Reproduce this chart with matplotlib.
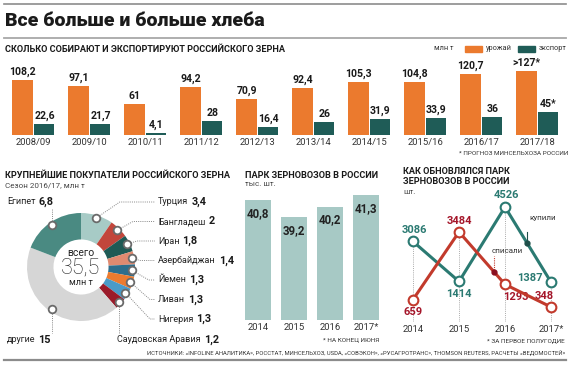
import matplotlib
matplotlib.use('Agg')
import matplotlib.pyplot as plt
from matplotlib.patches import Rectangle
import numpy as np

# ---------------- data ----------------
seasons = ['2008/09', '2009/10', '2010/11', '2011/12', '2012/13',
           '2013/14', '2014/15', '2015/16', '2016/17', '2017/18']
harvest = [108.2, 97.1, 61, 94.2, 70.9, 92.4, 105.3, 104.8, 120.7, 127]
export = [22.6, 21.7, 4.1, 28, 16.4, 26, 31.9, 33.9, 36, 45]
harvest_labels = ['108,2', '97,1', '61', '94,2', '70,9', '92,4', '105,3', '104,8', '120,7', '>127*']
export_labels = ['22,6', '21,7', '4,1', '28', '16,4', '26', '31,9', '33,9', '36', '45*']

buyers = ['Турция', 'Бангладеш', 'Иран', 'Азербайджан', 'Йемен', 'Ливан',
          'Нигерия', 'Саудовская Аравия', 'другие', 'Египет']
buyer_vals = [3.4, 2, 1.8, 1.4, 1.3, 1.3, 1.3, 1.2, 15, 6.8]
buyer_labels = ['3,4', '2', '1,8', '1,4', '1,3', '1,3', '1,3', '1,2', '15', '6,8']
buyer_colors = ['#a7cbc6', '#c2463b', '#1f5a55', '#e08a70', '#2e6e8c', '#ec7b2f',
                '#4a9bc9', '#9b1b2a', '#d6d6d6', '#4a8a82']

fleet_years = ['2014', '2015', '2016', '2017*']
fleet = [40.8, 39.2, 40.2, 41.3]
fleet_labels = ['40,8', '39,2', '40,2', '41,3']

upd_years = ['2014', '2015', '2016', '2017*']
bought = [3086, 1414, 4526, 1387]
scrapped = [659, 3484, 1293, 348]

# ---------------- setup ----------------
W, H = 570, 367
plt.rcParams['font.family'] = ['Liberation Sans Narrow', 'Roboto', 'DejaVu Sans']
DARK = '#1a1a1a'
ORANGE = '#eb7a2e'
TEAL = '#1f5c57'
LTEAL = '#a7c9c5'
LINE_T = '#2b7a72'
LINE_R = '#c23a2c'
LAB_R = '#a5162a'
SEC = 6.6  # section title size

fig = plt.figure(figsize=(W / 100, H / 100), dpi=100)
fig.patch.set_facecolor('white')


def ax_px(x0, y0, x1, y1):
    return fig.add_axes([x0 / W, 1 - y1 / H, (x1 - x0) / W, (y1 - y0) / H])


def txt(x, y, s, **kw):
    kw.setdefault('va', 'center')
    kw.setdefault('color', DARK)
    return fig.text(x / W, 1 - y / H, s, **kw)


def hline(y, x0, x1, **kw):
    fig.add_artist(plt.Line2D([x0 / W, x1 / W], [1 - y / H, 1 - y / H], **kw))


# header
hline(4, 4, 566, color='#8c8c8c', lw=1.2)
txt(5, 21, 'Все больше и больше хлеба', fontsize=14, fontweight='black')
hline(38, 4, 566, color='#a8a8a8', lw=1.3)
txt(5, 49, 'СКОЛЬКО СОБИРАЮТ И ЭКСПОРТИРУЮТ РОССИЙСКОГО ЗЕРНА', fontsize=SEC, fontweight='bold')
txt(453, 49, 'млн т', fontsize=5.3, ha='right', color='#333')
fig.add_artist(Rectangle((465 / W, 1 - 52 / H), 17 / W, 6 / H, color=ORANGE, transform=fig.transFigure))
txt(486, 49, 'урожай', fontsize=5.3, color='#333')
fig.add_artist(Rectangle((518 / W, 1 - 52 / H), 17 / W, 6 / H, color=TEAL, transform=fig.transFigure))
txt(567, 49, 'экспорт', fontsize=5.3, ha='right', color='#333')

# ---------------- chart 1: harvest / export ----------------
ax1 = ax_px(5.5, 64, 565.5, 135)
x = np.arange(len(seasons))
ax1.bar(x - 0.196, harvest, width=0.375, color=ORANGE)
ax1.bar(x + 0.196, export, width=0.357, color=TEAL)
for i in range(len(seasons)):
    ax1.annotate(harvest_labels[i], (x[i] - 0.196, harvest[i]), xytext=(0, 2), textcoords='offset points',
                 ha='center', va='bottom', fontsize=7.6, fontweight='bold', color=DARK)
    ax1.annotate(export_labels[i], (x[i] + 0.196, export[i]), xytext=(0, 2), textcoords='offset points',
                 ha='center', va='bottom', fontsize=7.6, fontweight='bold', color=DARK)
ax1.set_xlim(-0.5, len(seasons) - 0.5)
ax1.set_ylim(0, 140)
ax1.set_xticks(x)
ax1.set_xticklabels(seasons, fontsize=6.8, color='#333')
ax1.tick_params(axis='x', length=0, pad=2)
ax1.set_yticks([])
for s in ax1.spines.values():
    s.set_visible(False)
ax1.patch.set_alpha(0)
txt(568, 153, '* ПРОГНОЗ МИНСЕЛЬХОЗА РОССИИ', fontsize=4.6, ha='right', color='#333')

# ---------------- donut ----------------
txt(5, 175, 'КРУПНЕЙШИЕ ПОКУПАТЕЛИ РОССИЙСКОГО ЗЕРНА', fontsize=SEC, fontweight='bold')
txt(5, 185, 'Сезон 2016/17, млн т', fontsize=5.8, color='#444')

axd = ax_px(0, 190, 230, 350)
CX, CY, R = 81, 367 - 267, 54
wedges, _ = axd.pie(buyer_vals, colors=buyer_colors, startangle=90, counterclock=False,
                    center=(CX, CY), radius=R, wedgeprops=dict(width=R * 0.49, linewidth=0))
axd.set_xlim(0, 230)
axd.set_ylim(367 - 350, 367 - 190)
axd.set_aspect('auto')
axd.axis('off')

axd.text(CX, 367 - 252.5, 'всего', ha='center', va='center', fontsize=7.5, color='#222')
axd.text(CX, 367 - 268, '35,5', ha='center', va='center', fontsize=15.5, fontweight='light', color='#222')
axd.text(CX, 367 - 282.5, 'млн т', ha='center', va='center', fontsize=6.5, color='#222')

fig.canvas.draw()
renderer = fig.canvas.get_renderer()


def name_value(ax, xx, yy, name, val):
    t = ax.text(xx, yy, name, ha='left', va='center', fontsize=6.5, color='#222')
    bb = t.get_window_extent(renderer=renderer)
    inv = ax.transData.inverted()
    x_end = inv.transform((bb.x1, bb.y0))[0]
    ax.text(x_end + 3, yy, val, ha='left', va='center', fontsize=7.8, fontweight='bold', color=DARK)


rm = R * 0.95
right_y = [202 + 19.5 * k for k in range(7)]
for i, w in enumerate(wedges):
    mid = np.deg2rad((w.theta1 + w.theta2) / 2)
    mx, my = CX + rm * np.cos(mid), CY + rm * np.sin(mid)
    if i < 7:
        ly = 367 - right_y[i]
        ex = min(mx + abs(my - ly) * 1.1 + 6, 150)
        axd.plot([mx, ex, 155], [my, ly, ly], color='#888', lw=0.7, ls=(0, (1, 1.2)), zorder=3)
        name_value(axd, 158, ly, buyers[i], buyer_labels[i])
    elif i == 7:
        axd.plot([mx, mx], [my, 367 - 333], color='#888', lw=0.7, ls=(0, (1, 1.2)), zorder=3)
        name_value(axd, 117, 367 - 340, buyers[i], buyer_labels[i])
    elif i == 8:
        axd.plot([mx, mx], [my, 367 - 333], color='#888', lw=0.7, ls=(0, (1, 1.2)), zorder=3)
        name_value(axd, 7, 367 - 340, buyers[i], buyer_labels[i])
    else:
        axd.plot([mx, mx], [my, 367 - 208], color='#888', lw=0.7, ls=(0, (1, 1.2)), zorder=3)
        name_value(axd, 7, 367 - 202, buyers[i], buyer_labels[i])
    axd.plot(mx, my, 'o', ms=5.5, mfc='white', mec='#6a6a6a', mew=1.3, zorder=5)

# ---------------- chart 3: fleet ----------------
txt(245, 175, 'ПАРК ЗЕРНОВОЗОВ В РОССИИ', fontsize=SEC, fontweight='bold')
txt(245, 184, 'тыс. шт.', fontsize=5.8, color='#444')
ax3 = ax_px(240, 190, 384, 320)
xf = np.arange(len(fleet_years))
ax3.bar(xf, fleet, width=0.72, color=LTEAL, bottom=0)
for i in range(len(xf)):
    ax3.annotate(fleet_labels[i], (xf[i], fleet[i]), xytext=(0, -5), textcoords='offset points',
                 ha='center', va='top', fontsize=8.3, fontweight='bold', color='#222')
ax3.set_xlim(-0.5, 3.5)
ax3.set_ylim(29.4, 41.78)
ax3.set_xticks(xf)
ax3.set_xticklabels(fleet_years, fontsize=6.8, color='#333')
ax3.tick_params(axis='x', length=0, pad=2)
ax3.set_yticks([])
for s in ax3.spines.values():
    s.set_visible(False)
ax3.patch.set_alpha(0)
txt(379, 340, '* НА КОНЕЦ ИЮНЯ', fontsize=4.6, ha='right', color='#333')

# ---------------- chart 4: fleet update ----------------
txt(403, 172, 'КАК ОБНОВЛЯЛСЯ ПАРК', fontsize=SEC, fontweight='bold')
txt(403, 182, 'ЗЕРНОВОЗОВ В РОССИИ', fontsize=SEC, fontweight='bold')
txt(403, 192, 'шт.', fontsize=5.8, color='#444')
ax4 = ax_px(400, 195, 565, 322)
xl = np.arange(len(upd_years))
ax4.set_xlim(-0.283, 3.304)
ax4.set_ylim(-279, 5028)
tops = np.maximum(bought, scrapped)
ax4.vlines(xl, -279, tops, colors='#aaaaaa', lw=0.7, linestyles=(0, (1, 1.2)), zorder=1)
ax4.plot(xl, bought, color=LINE_T, lw=2.2, marker='o', ms=7, mfc='white', mec=LINE_T, mew=1.5, zorder=3)
ax4.plot(xl, scrapped, color=LINE_R, lw=2.2, marker='o', ms=7, mfc='white', mec=LINE_R, mew=1.5, zorder=4)

b_off = [(1, 8), (0, -9), (1, 9), (-15, 3)]
s_off = [(0, -9), (0, 8), (8, -9), (-5, 8)]
for i in range(len(xl)):
    ax4.annotate(f'{bought[i]}', (xl[i], bought[i]), xytext=b_off[i], textcoords='offset points',
                 ha='center', va='center', fontsize=8, fontweight='bold', color=LINE_T)
    ax4.annotate(f'{scrapped[i]}', (xl[i], scrapped[i]), xytext=s_off[i], textcoords='offset points',
                 ha='center', va='center', fontsize=8, fontweight='bold', color=LAB_R)

# series markers "купили" / "списали"
xb = 2.48
yb = np.interp(xb, xl, bought)
ax4.plot([xb, xb], [yb, yb + 450], color='#1f4f4a', lw=0.8, zorder=5)
ax4.plot(xb, yb, 'o', ms=3.5, color='#1f4f4a', zorder=6)
ax4.text(xb + 0.05, yb + 1050, 'купили', ha='left', va='center', fontsize=5.8, color='#333')
xs = 1.76
ys = np.interp(xs, xl, scrapped)
ax4.plot([xs, xs], [ys, ys + 650], color=LINE_R, lw=0.8, ls=(0, (1, 1)), zorder=5)
ax4.plot(xs, ys, 'o', ms=3.5, color='#8a1020', zorder=6)
ax4.text(xs - 0.05, ys + 870, 'списали', ha='left', va='center', fontsize=5.8, color='#333')

ax4.set_xticks(xl)
ax4.set_xticklabels(upd_years, fontsize=6.8, color='#333')
ax4.tick_params(axis='x', length=0, pad=2)
ax4.set_yticks([])
for s in ax4.spines.values():
    s.set_visible(False)
ax4.patch.set_alpha(0)
txt(565, 341, '* ЗА ПЕРВОЕ ПОЛУГОДИЕ', fontsize=4.6, ha='right', color='#333')

# sources + bottom rule
txt(565, 352, 'ИСТОЧНИКИ: «INFOLINE АНАЛИТИКА», РОССТАТ, МИНСЕЛЬХОЗ, USDA, «СОВЭКОН», «РУСАГРОТРАНС», '
    'THOMSON REUTERS, РАСЧЕТЫ «ВЕДОМОСТЕЙ»', fontsize=4.2, ha='right', color='#333')
hline(360, 4, 566, color='#8c8c8c', lw=1.6)

fig.savefig('out.png', dpi=100, facecolor='white')
